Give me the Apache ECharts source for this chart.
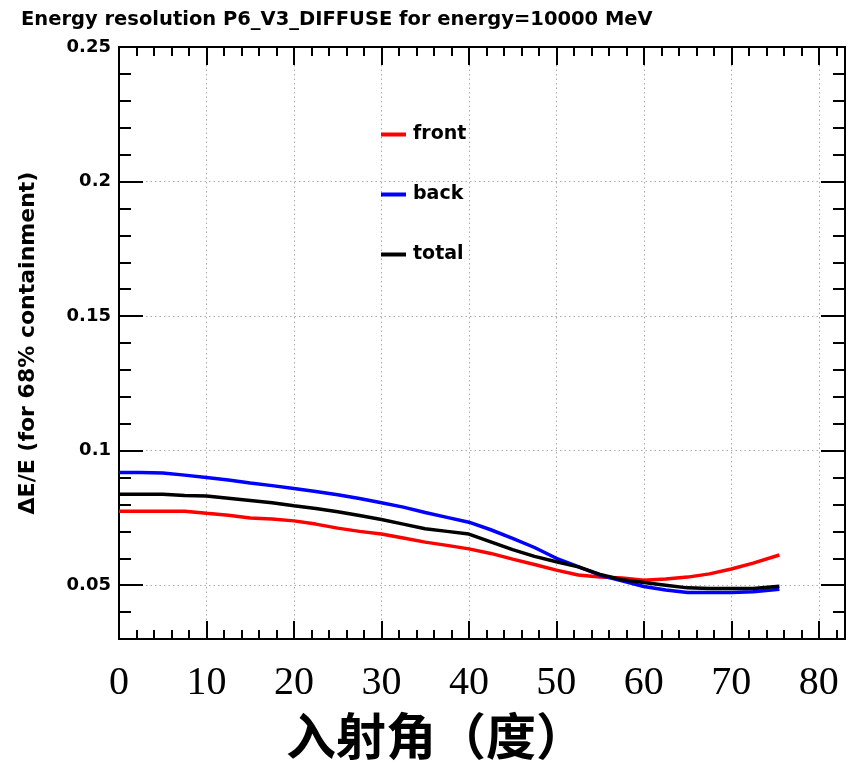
<!DOCTYPE html>
<html>
<head>
<meta charset="utf-8">
<script src="https://cdn.jsdelivr.net/npm/echarts@6/dist/echarts.min.js"></script>
<style>
  html, body { margin: 0; padding: 0; background: #ffffff; }
  #main { width: 857px; height: 764px; }
</style>
</head>
<body>
<div id="main"></div>
<script>
// incidence angle (deg) and dE/E for 68% containment
var angles = [0, 2.5, 5, 7.5, 10, 12.5, 15, 17.5, 20, 22.5, 25, 27.5, 30, 32.5, 35, 37.5,
  40, 42.5, 45, 47.5, 50, 52.5, 55, 57.5, 60, 62.5, 65, 67.5, 70, 72.5, 75.5];
var front = [0.0775, 0.0775, 0.0775, 0.0775, 0.0767, 0.0760, 0.0750, 0.0746, 0.0739, 0.0727,
  0.0712, 0.0700, 0.0690, 0.0675, 0.0660, 0.0648, 0.0635, 0.0618, 0.0597, 0.0577,
  0.0556, 0.0538, 0.0530, 0.0527, 0.0518, 0.0523, 0.0530, 0.0542, 0.0560, 0.0582, 0.0612];
var back = [0.0919, 0.0919, 0.0917, 0.0909, 0.0900, 0.0891, 0.0880, 0.0870, 0.0859, 0.0848,
  0.0836, 0.0822, 0.0806, 0.0790, 0.0770, 0.0752, 0.0734, 0.0706, 0.0674, 0.0640,
  0.0600, 0.0569, 0.0537, 0.0516, 0.0495, 0.0482, 0.0473, 0.0473, 0.0473, 0.0476, 0.0485];
var total = [0.0838, 0.0838, 0.0838, 0.0833, 0.0831, 0.0823, 0.0815, 0.0806, 0.0795, 0.0785,
  0.0773, 0.0759, 0.0744, 0.0727, 0.0710, 0.0700, 0.0690, 0.0661, 0.0632, 0.0607,
  0.0587, 0.0568, 0.0540, 0.0520, 0.0510, 0.0500, 0.0490, 0.0488, 0.0488, 0.0488, 0.0496];
var seriesNames = ['front', 'back', 'total'];
var seriesColors = ['#ff0000', '#0000ff', '#000000'];

var xMin = 0, xMax = 83, yMin = 0.03, yMax = 0.25;
var sans = 'DejaVu Sans';
var gridLine = { show: true, lineStyle: { color: '#aaa', type: [1.5, 3], width: 1 } };

function pairs(vals) {
  return angles.map(function (a, i) { return [a, vals[i]]; });
}

// ROOT style: majors and minors on all four sides, pointing inward.
// onZero off, otherwise the right/top axes get pulled onto the origin
function xAx(pos, interval, len, withLabels) {
  return {
    type: 'value', position: pos, min: xMin, max: xMax, interval: interval,
    axisLine: { show: true, onZero: false, lineStyle: { color: '#000', width: 2 } },
    axisTick: { show: true, inside: true, length: len, lineStyle: { color: '#000', width: 2 } },
    axisLabel: withLabels ? {
      show: true, showMaxLabel: false, margin: 24,
      fontFamily: 'Liberation Serif', fontSize: 40, color: '#000'
    } : { show: false },
    splitLine: withLabels ? gridLine : { show: false }
  };
}

function yAx(pos, interval, len, withLabels) {
  var ax = {
    type: 'value', position: pos, min: yMin, max: yMax,
    axisLine: { show: true, onZero: false, lineStyle: { color: '#000', width: 2 } },
    axisTick: { show: true, inside: true, length: len, lineStyle: { color: '#000', width: 2 } },
    axisLabel: withLabels ? {
      show: true, showMinLabel: false, margin: 8,
      fontFamily: sans, fontWeight: 'bold', fontSize: 18, color: '#000'
    } : { show: false },
    splitLine: withLabels ? gridLine : { show: false }
  };
  if (interval) ax.interval = interval;
  if (withLabels) {
    ax.name = 'ΔE/E (for 68% containment)';
    ax.nameLocation = 'middle';
    ax.nameGap = 80;
    ax.nameTextStyle = { fontFamily: sans, fontWeight: 'bold', fontSize: 22, color: '#000' };
  }
  return ax;
}

var chart = echarts.init(document.getElementById('main'));

var option = {
  backgroundColor: '#ffffff',
  animation: false,
  title: [{
    text: 'Energy resolution P6_V3_DIFFUSE for energy=10000 MeV',
    left: 16, top: 5,
    textStyle: { fontFamily: sans, fontWeight: 'bold', fontSize: 19.5, color: '#000' }
  }, {
    text: '入射角（度）',
    left: 281, top: 706,
    textStyle: { fontFamily: 'Noto Sans CJK SC', fontWeight: 'bold', fontSize: 50, color: '#000' }
  }],
  legend: {
    data: seriesNames,
    orient: 'vertical',
    left: 381, top: 125,
    padding: 0,
    itemGap: 41,
    itemWidth: 25, itemHeight: 4,
    icon: 'rect',
    textStyle: { fontFamily: sans, fontWeight: 'bold', fontSize: 19, color: '#000', padding: [0, 0, 0, 2] }
  },
  grid: {
    left: 119, right: 12, top: 47, bottom: 125,
    outerBoundsMode: 'none',
    show: true, borderColor: '#000', borderWidth: 2, backgroundColor: 'transparent'
  },
  xAxis: [
    xAx('bottom', 10, 18, true),
    xAx('bottom', 2, 9, false),
    xAx('top', 10, 18, false),
    xAx('top', 2, 9, false)
  ],
  yAxis: [
    yAx('left', null, 24, true),
    yAx('left', 0.01, 12, false),
    yAx('right', null, 24, false),
    yAx('right', 0.01, 12, false)
  ],
  series: seriesNames.map(function (name, i) {
    var vals = [front, back, total][i];
    return {
      name: name,
      type: 'line',
      xAxisIndex: 0,
      yAxisIndex: 0,
      data: pairs(vals),
      showSymbol: false,
      color: seriesColors[i],
      lineStyle: { color: seriesColors[i], width: 3.5 }
    };
  })
};

chart.setOption(option);
</script>
</body>
</html>
